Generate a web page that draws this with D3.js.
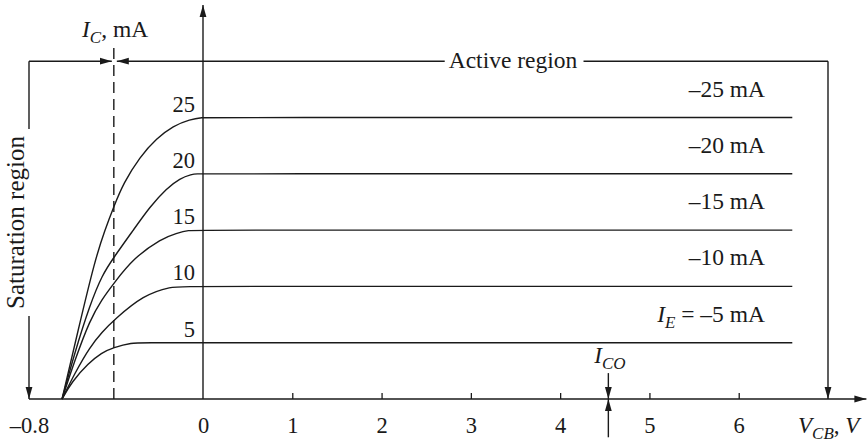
<!DOCTYPE html>
<html>
<head>
<meta charset="utf-8">
<script src="https://cdn.jsdelivr.net/npm/d3@7"></script>
<style>
  html, body { margin: 0; padding: 0; background: #fff; }
  svg { display: block; }
  text { font-family: "Liberation Serif", "Times New Roman", serif; fill: #1a1a1a; }
</style>
</head>
<body>
<svg id="chart" width="868" height="444"></svg>
<script>
// Common-base output characteristics: I_C versus V_CB for several emitter currents.
const emitterCurrents = [5, 10, 15, 20, 25];            // mA, flat level of each curve
const curveNumbers = ["5", "10", "15", "20", "25"];
const ieLabels = ["–5 mA", "–10 mA", "–15 mA", "–20 mA", "–25 mA"];

// Rising (saturation) part of each curve as [V_CB (V), I_C (mA)]
const rise5  = [[-0.648, 0], [-0.603, 1.54], [-0.527, 3.17], [-0.466, 4.11], [-0.413, 4.56], [-0.328, 5]];
const rise10 = [[-0.648, 0], [-0.589, 2.31], [-0.520, 4.62], [-0.464, 5.95], [-0.409, 7.02], [-0.274, 9.24], [-0.144, 10]];
const rise15 = [[-0.648, 0], [-0.589, 3.46], [-0.520, 7.02], [-0.464, 8.88], [-0.409, 10.30], [-0.320, 12.50], [-0.190, 14.27], [-0.121, 14.72], [-0.068, 15]];
const rise20 = [[-0.648, 0], [-0.589, 4.17], [-0.520, 8.35], [-0.464, 11.01], [-0.409, 12.61], [-0.320, 15.01], [-0.244, 17.08], [-0.167, 18.71], [-0.106, 19.60], [-0.052, 19.96], [-0.028, 20]];
const rise25 = [[-0.648, 0], [-0.575, 6.04], [-0.497, 12.34], [-0.451, 15.01], [-0.409, 17.14], [-0.366, 19.16], [-0.290, 21.52], [-0.213, 23.15], [-0.137, 24.25], [-0.060, 24.84], [0, 25]];
const risingParts = [rise5, rise10, rise15, rise20, rise25];

const xTickValues = [-0.8, 0, 1, 2, 3, 4, 5, 6];
const xTickLabels = ["–0.8", "0", "1", "2", "3", "4", "5", "6"];

const vFlatEnd = 6.6;      // where the active-region lines stop
const vBoundary = -0.41;   // saturation / active boundary (dashed)
const vActiveEnd = 7.0;    // right end of the active-region bracket
const vAxisEnd = 7.43;     // tip of the V_CB axis arrow
const vICO = 4.54;         // position of the I_CO marker
const iAxisTop = 35;       // tip of the I_C axis arrow
const iRegionLine = 30;    // height of the region bracket
const iDashTop = 31.4;     // top of the dashed boundary

const ink = "#1a1a1a";
const svg = d3.select("#chart");

// Piecewise scale: the negative V_CB side is drawn expanded
const x = d3.scaleLinear().domain([-0.8, 0, vActiveEnd]).range([29, 203, 828]);
const y = d3.scaleLinear().domain([0, 25]).range([399, 117.5]);

// Arrowhead marker
const defs = svg.append("defs");
defs.append("marker")
  .attr("id", "arrow")
  .attr("markerUnits", "userSpaceOnUse")
  .attr("markerWidth", 14).attr("markerHeight", 10)
  .attr("viewBox", "0 -5 14 10")
  .attr("refX", 12).attr("refY", 0)
  .attr("orient", "auto")
  .append("path").attr("d", "M0,-3.4L12,0L0,3.4Z").attr("fill", ink);

function seg(x1, y1, x2, y2, arrow) {
  const l = svg.append("line")
    .attr("x1", x1).attr("y1", y1).attr("x2", x2).attr("y2", y2)
    .attr("stroke", ink).attr("stroke-width", 1.4);
  if (arrow) l.attr("marker-end", "url(#arrow)");
  return l;
}

// Axes lines with arrows
seg(x(-0.8), y(0), x(vAxisEnd), y(0), true);
seg(x(0), y(0), x(0), y(iAxisTop), true);

// Tick marks and labels on V_CB axis
const xAxis = d3.axisBottom(x)
  .tickValues(xTickValues)
  .tickFormat((d, i) => xTickLabels[i])
  .tickSizeInner(-6).tickSizeOuter(0).tickPadding(18);
const gx = svg.append("g").attr("transform", `translate(0,${y(0)})`).call(xAxis);
gx.select(".domain").remove();
gx.selectAll(".tick line").attr("stroke", ink).attr("stroke-width", 1.3)
  .filter(d => d <= 0).remove();
gx.selectAll(".tick text")
  .attr("fill", ink).attr("font-size", 22.5)
  .attr("font-family", "Liberation Serif, Times New Roman, serif");

// Characteristic curves: smooth rising part that levels into the flat active-region line
const line = d3.line().x(d => x(d[0])).y(d => y(d[1])).curve(d3.curveBasis);
risingParts.forEach((part, i) => {
  const last = part[part.length - 1];
  const pts = part.concat([[last[0] + 0.06, emitterCurrents[i]], [vFlatEnd, emitterCurrents[i]]]);
  svg.append("path").attr("d", line(pts))
    .attr("fill", "none").attr("stroke", ink).attr("stroke-width", 1.4);
});

// Curve values next to the I_C axis
emitterCurrents.forEach((iv, i) => {
  svg.append("text")
    .attr("x", x(0) - 8).attr("y", y(iv) - 6)
    .attr("text-anchor", "end").attr("font-size", 22.5)
    .text(curveNumbers[i]);
});

// Emitter current labels
emitterCurrents.forEach((iv, i) => {
  const t = svg.append("text")
    .attr("x", 765).attr("y", y(iv) - 21)
    .attr("text-anchor", "end").attr("font-size", 23.5);
  if (i === 0) {
    t.append("tspan").attr("font-style", "italic").text("I");
    t.append("tspan").attr("font-style", "italic").attr("font-size", 17).attr("dy", 6).text("E");
    t.append("tspan").attr("dy", -6).text(" = " + ieLabels[i]);
  } else {
    t.text(ieLabels[i]);
  }
});

// Dashed saturation/active boundary
svg.append("line")
  .attr("x1", x(vBoundary)).attr("x2", x(vBoundary))
  .attr("y1", y(0)).attr("y2", y(iDashTop))
  .attr("stroke", ink).attr("stroke-width", 1.4)
  .attr("stroke-dasharray", "11,6");

// Region bracket along the top
const yr = y(iRegionLine);
const active = svg.append("text")
  .attr("x", 513).attr("y", yr + 6.5)
  .attr("text-anchor", "middle").attr("font-size", 23.5)
  .text("Active region");
const ab = active.node().getBBox();
seg(x(-0.8), yr, x(vBoundary) - 2, yr, true);
seg(ab.x - 4, yr, x(vBoundary) + 3, yr, true);
seg(ab.x + ab.width + 6, yr, x(vActiveEnd), yr, false);
seg(x(vActiveEnd), yr, x(vActiveEnd), y(0), true);

// Saturation region label on the left bracket
const satX = x(-0.8);
const satMid = 222.5;
const sat = svg.append("text")
  .attr("transform", `translate(${satX - 5},${satMid}) rotate(-90)`)
  .attr("text-anchor", "middle").attr("font-size", 25)
  .text("Saturation region");
const half = sat.node().getComputedTextLength() / 2;
seg(satX, yr, satX, satMid - half - 7, false);
seg(satX, satMid + half + 7, satX, y(0), true);

// I_C axis title
const ic = svg.append("text").attr("x", 82).attr("y", 37).attr("font-size", 23.5);
ic.append("tspan").attr("font-style", "italic").text("I");
ic.append("tspan").attr("font-style", "italic").attr("font-size", 17).attr("dy", 6).text("C");
ic.append("tspan").attr("dy", -6).text(", mA");

// V_CB axis title
const vcb = svg.append("text").attr("x", 798).attr("y", 433).attr("font-size", 23);
vcb.append("tspan").attr("font-style", "italic").text("V");
vcb.append("tspan").attr("font-style", "italic").attr("font-size", 17).attr("dy", 6).text("CB");
vcb.append("tspan").attr("dy", -6).text(", ");
vcb.append("tspan").attr("font-style", "italic").text("V");

// I_CO marker on the V_CB axis
seg(x(vICO), y(2.3), x(vICO), y(0), true);
seg(x(vICO), y(-3.4), x(vICO), y(0), true);
const ico = svg.append("text").attr("x", x(vICO) - 14).attr("y", 363).attr("font-size", 23);
ico.append("tspan").attr("font-style", "italic").text("I");
ico.append("tspan").attr("font-style", "italic").attr("font-size", 17).attr("dy", 6).text("CO");
</script>
</body>
</html>
